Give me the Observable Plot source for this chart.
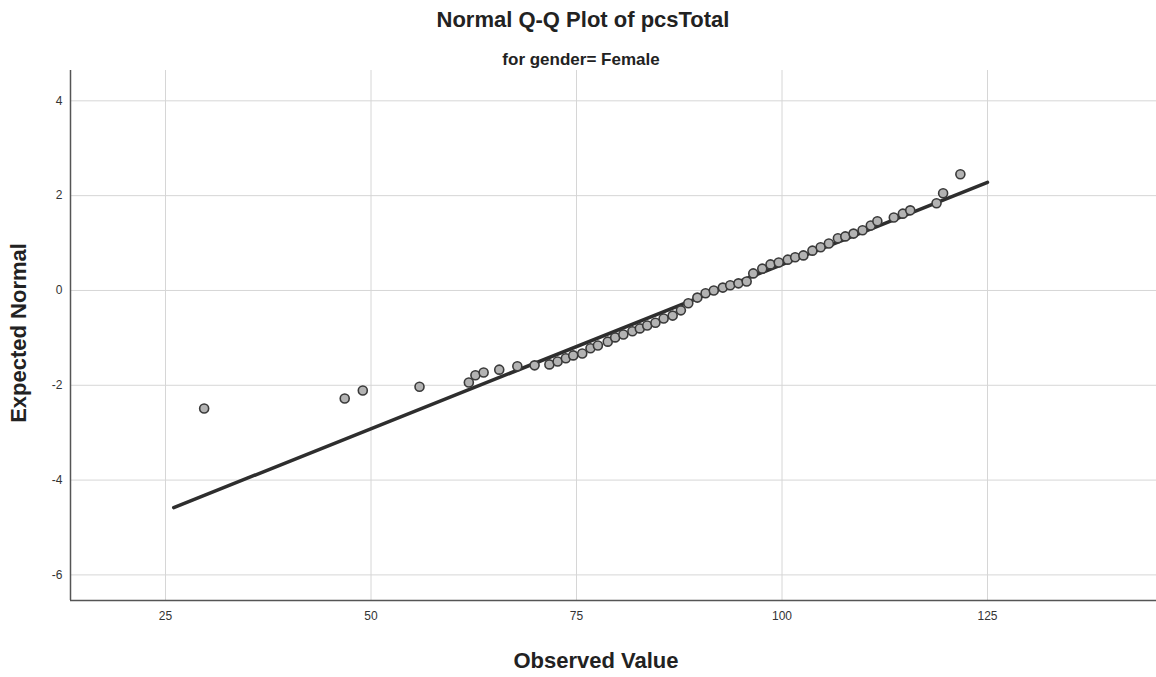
<!DOCTYPE html>
<html><head><meta charset="utf-8">
<script src="https://cdn.jsdelivr.net/npm/d3@7"></script>
<script src="https://cdn.jsdelivr.net/npm/@observablehq/plot@0.6"></script>
<style>
body{margin:0;background:#fff;font-family:"Liberation Sans",Arial,sans-serif;}
#wrap{position:relative;width:1156px;height:677px;overflow:hidden;background:#fff;}
.t{position:absolute;z-index:2;font-weight:bold;color:#222;white-space:nowrap;transform:translate(-50%,-50%);}
</style></head><body>
<div id="wrap">
<div id="chart" style="position:absolute;left:0;top:68px;z-index:1"></div>
<div class="t" style="left:583px;top:20px;font-size:22px">Normal Q-Q Plot of pcsTotal</div>
<div class="t" style="left:581px;top:60px;font-size:17px">for gender= Female</div>
<div class="t" style="left:19px;top:333px;font-size:22px;transform:translate(-50%,-50%) rotate(-90deg)">Expected Normal</div>
<div class="t" style="left:596px;top:661px;font-size:22px">Observed Value</div>
</div>
<script>
// Observed values (pcsTotal) and their expected normal scores
const observed = [29.7, 46.8, 49.0, 55.9, 61.9, 62.7, 63.7, 65.6, 67.8, 69.9,
  71.7, 72.7, 73.7, 74.6, 75.7, 76.7, 77.6, 78.8, 79.7, 80.7,
  81.8, 82.7, 83.6, 84.6, 85.6, 86.7, 87.7, 88.6, 89.7, 90.7,
  91.7, 92.8, 93.7, 94.7, 95.7, 96.5, 97.6, 98.6, 99.6, 100.7,
  101.6, 102.6, 103.7, 104.7, 105.7, 106.8, 107.7, 108.7, 109.8, 110.8,
  111.6, 113.6, 114.7, 115.6, 118.8, 119.6, 121.7];
const expectedNormal = [-2.49, -2.28, -2.11, -2.03, -1.94, -1.79, -1.73, -1.67, -1.60, -1.58,
  -1.56, -1.50, -1.43, -1.37, -1.33, -1.22, -1.16, -1.08, -0.99, -0.93,
  -0.86, -0.80, -0.74, -0.68, -0.59, -0.53, -0.42, -0.27, -0.15, -0.06,
  0.00, 0.06, 0.11, 0.15, 0.19, 0.36, 0.46, 0.55, 0.59, 0.65,
  0.70, 0.74, 0.84, 0.91, 0.99, 1.10, 1.14, 1.20, 1.27, 1.37,
  1.46, 1.54, 1.62, 1.69, 1.84, 2.05, 2.45];
// Reference line endpoints
const lineObserved = [26.0, 125.0];
const lineExpected = [-4.58, 2.28];
// Axis ticks
const xTicks = [25, 50, 75, 100, 125];
const yTicks = [-6, -4, -2, 0, 2, 4];
const xDomain = [13.44, 145.56];
const yDomain = [-6.54, 4.64];

const pts = observed.map((v, i) => ({x: v, y: expectedNormal[i]}));
const line = lineObserved.map((v, i) => ({x: v, y: lineExpected[i]}));
const fmt = d => String(d);

const chart = Plot.plot({
  width: 1156,
  height: 609,
  marginTop: 2,
  marginBottom: 77,
  marginLeft: 70,
  marginRight: 0,
  style: {fontFamily: '"Liberation Sans", Arial, sans-serif', fontSize: "12px", color: "#333", background: "transparent"},
  x: {domain: xDomain, ticks: xTicks, label: null},
  y: {domain: yDomain, ticks: yTicks, label: null},
  marks: [
    Plot.gridX(xTicks, {stroke: "#d6d6d6", strokeOpacity: 1}),
    Plot.gridY(yTicks, {stroke: "#d6d6d6", strokeOpacity: 1}),
    Plot.axisX(xTicks, {tickSize: 0, tickPadding: 11, fontSize: 12, tickFormat: fmt}),
    Plot.axisY(yTicks, {tickSize: 0, tickPadding: 8, fontSize: 12, tickFormat: fmt}),
    Plot.ruleX([xDomain[0]], {stroke: "#555", strokeWidth: 1.5}),
    Plot.ruleY([yDomain[0]], {stroke: "#555", strokeWidth: 1.5}),
    Plot.line(line, {x: "x", y: "y", stroke: "#2e2e2e", strokeWidth: 3.5}),
    Plot.dot(pts, {x: "x", y: "y", r: 4.5, fill: "#b3b3b3", stroke: "#3a3a3a", strokeWidth: 1.6})
  ]
});
document.getElementById("chart").appendChild(chart);
</script>
</body></html>
